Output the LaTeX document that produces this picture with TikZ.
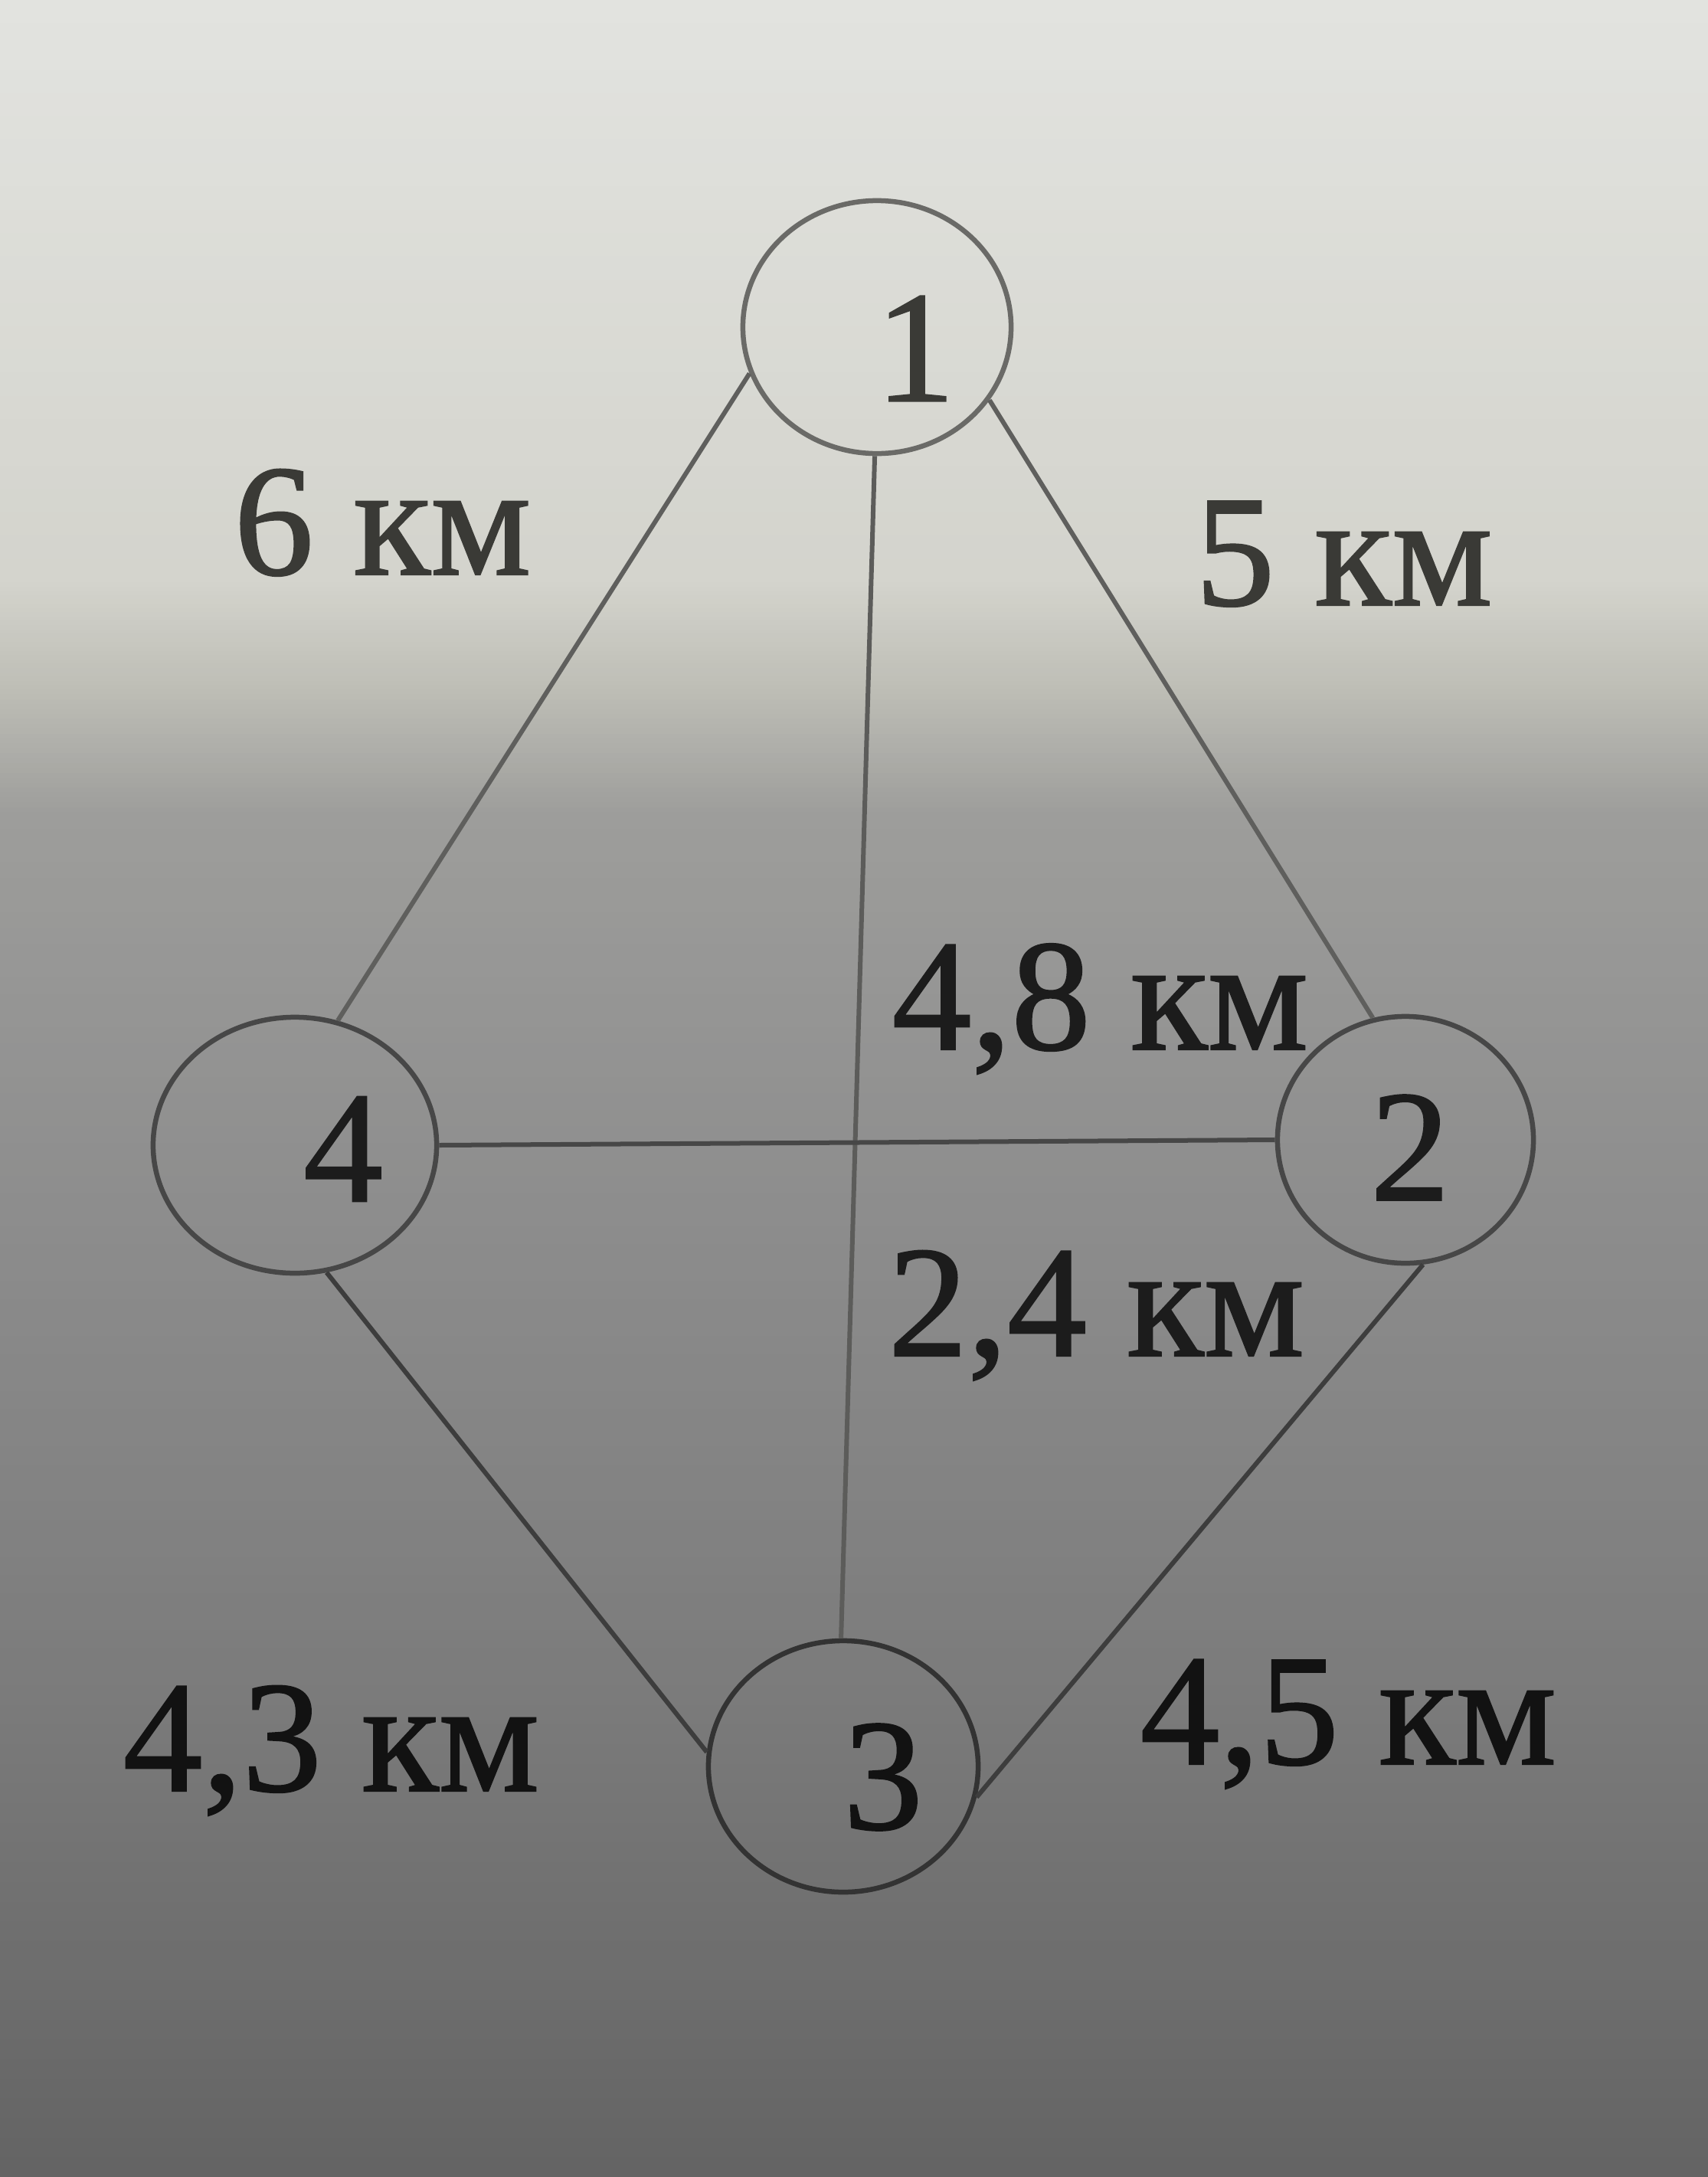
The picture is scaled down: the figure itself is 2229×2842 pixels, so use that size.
\documentclass[tikz,border=0pt]{standalone}
\usepackage{fontspec}
\setmainfont{Liberation Serif}[RawFeature={embolden=1.1}]
\usetikzlibrary{shapes.geometric}
\definecolor{bgA}{HTML}{E2E3DF}
\definecolor{bgB}{HTML}{D3D3CC}
\definecolor{bgC}{HTML}{BDBDB5}
\definecolor{bgD}{HTML}{9D9D9B}
\definecolor{bgE}{HTML}{8C8C8C}
\definecolor{bgF}{HTML}{7B7B7B}
\definecolor{bgG}{HTML}{636363}
\definecolor{lineTop}{HTML}{6A6A67}
\definecolor{lineMid}{HTML}{474747}
\definecolor{lineBot}{HTML}{333333}
\definecolor{txtTop}{HTML}{3A3A36}
\definecolor{txtMid}{HTML}{1C1C1C}
\definecolor{txtBot}{HTML}{121212}
\begin{document}
\begin{tikzpicture}[x=0.01cm,y=-0.01cm,
  vertex/.style={ellipse, draw, line width=0.065cm, inner sep=0pt},
  edge/.style={line width=0.06cm},
  lbl/.style={anchor=base west, inner sep=0pt, font=\fontsize{59}{70}\selectfont},
  num/.style={anchor=center, inner sep=0pt, font=\fontsize{59}{70}\selectfont}]
\useasboundingbox (0,0) rectangle (2229,2842);
% background (photographed paper)
\foreach \ya/\yb/\ca/\cb in {0/760/bgA/bgB, 760/900/bgB/bgC, 900/1060/bgC/bgD, 1060/1600/bgD/bgE, 1600/2200/bgE/bgF, 2200/2842/bgF/bgG}{
  \pgfmathsetmacro\dy{(\yb-\ya)/25}
  \foreach \k in {0,...,24}{
    \pgfmathtruncatemacro\p{4*\k}
    \pgfmathsetmacro\yy{\ya+\dy*\k}
    \pgfmathsetmacro\yz{\ya+\dy*(\k+1)+2}
    \fill[\cb!\p!\ca] (-2,\yy) rectangle (2231,\yz);
  }
}
% vertices
\node[vertex, draw=lineTop, minimum width=3.50cm, minimum height=3.30cm] (n1) at (1145,427) {};
\node[vertex, draw=lineMid, minimum width=3.70cm, minimum height=3.34cm] (n4) at (385,1495) {};
\node[vertex, draw=lineMid, minimum width=3.34cm, minimum height=3.22cm] (n2) at (1835,1488) {};
\node[vertex, draw=lineBot, minimum width=3.52cm, minimum height=3.28cm] (n3) at (1101,2306) {};
% vertex numbers
\node[num, text=txtTop] (d1) at (1195,455) {1};
\node[num, text=txtMid] (d4) at (448,1500) {4};
\node[num, text=txtMid] (d2) at (1841,1498) {2};
\node[num, text=txtBot] (d3) at (1153,2320) {3};
% edges
\draw[edge, draw=lineTop!70!lineMid] (n1.200) -- (n4.71);
\draw[edge, draw=lineTop!60!lineMid] (n1.269) -- (n3.91);
\draw[edge, draw=lineTop!70!lineMid] (n1.327) -- (n2.105);
\draw[edge, draw=lineMid] (n4.0) -- (n2.180);
\draw[edge, draw=lineMid!50!lineBot] (n4.284) -- (n3.174);
\draw[edge, draw=lineMid!50!lineBot] (n2.278) -- (n3.347);
% distance labels
\node[lbl, text=txtTop] (l14) at (305,750) {6 км};
\node[lbl, text=txtTop] (l12) at (1560,790) {5 км};
\node[lbl, text=txtMid] (l13a) at (1164,1370) {4,8 км};
\node[lbl, text=txtMid] (l13b) at (1159,1770) {2,4 км};
\node[lbl, text=txtBot] (l43) at (160,2338) {4,3 км};
\node[lbl, text=txtBot] (l23) at (1488,2303) {4,5 км};
\end{tikzpicture}
\end{document}
